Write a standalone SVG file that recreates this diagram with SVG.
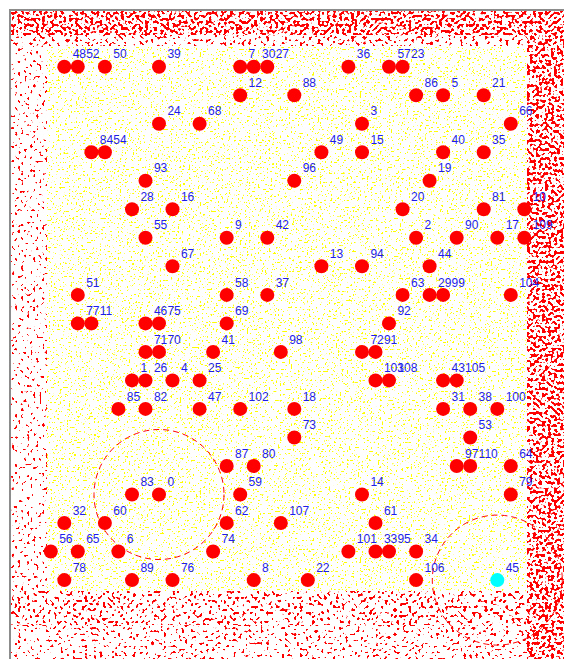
<svg xmlns="http://www.w3.org/2000/svg" width="564" height="659" viewBox="0 0 564 659">
<defs>
<style>
.n{fill:#ff0000}
.c{fill:#00ffff}
.l{font-family:"Liberation Sans",Arial,sans-serif;font-size:12px;fill:#1e1ee8}
.rng{fill:none;stroke:#ff0000;stroke-width:1;stroke-dasharray:6 4}
.frame{stroke:#8c8c8c;stroke-width:2;fill:none}
</style>
<filter id="fy" filterUnits="userSpaceOnUse" x="0" y="0" width="564" height="659" color-interpolation-filters="sRGB">
<feTurbulence type="fractalNoise" baseFrequency="0.55" numOctaves="1" seed="2"/>
<feColorMatrix type="matrix" values="0 0 0 0 1  0 0 0 0 1  0 0 0 0 0  30 0 0 0 -19.05"/>
<feComposite operator="in" in2="SourceAlpha"/>
</filter>
<filter id="frd" filterUnits="userSpaceOnUse" x="0" y="0" width="564" height="659" color-interpolation-filters="sRGB">
<feTurbulence type="fractalNoise" baseFrequency="0.33" numOctaves="1" seed="5"/>
<feColorMatrix type="matrix" values="0 0 0 0 1  0 0 0 0 0  0 0 0 0 0  30 0 0 0 -15.6"/>
<feComposite operator="in" in2="SourceAlpha"/>
</filter>
<filter id="frm" filterUnits="userSpaceOnUse" x="0" y="0" width="564" height="659" color-interpolation-filters="sRGB">
<feTurbulence type="fractalNoise" baseFrequency="0.33" numOctaves="1" seed="7"/>
<feColorMatrix type="matrix" values="0 0 0 0 1  0 0 0 0 0  0 0 0 0 0  30 0 0 0 -17.7"/>
<feComposite operator="in" in2="SourceAlpha"/>
</filter>
<filter id="frb" filterUnits="userSpaceOnUse" x="0" y="0" width="564" height="659" color-interpolation-filters="sRGB">
<feTurbulence type="fractalNoise" baseFrequency="0.33" numOctaves="1" seed="11"/>
<feColorMatrix type="matrix" values="0 0 0 0 1  0 0 0 0 0  0 0 0 0 0  30 0 0 0 -18.6"/>
<feComposite operator="in" in2="SourceAlpha"/>
</filter>
<filter id="frs" filterUnits="userSpaceOnUse" x="0" y="0" width="564" height="659" color-interpolation-filters="sRGB">
<feTurbulence type="fractalNoise" baseFrequency="0.33" numOctaves="1" seed="9"/>
<feColorMatrix type="matrix" values="0 0 0 0 1  0 0 0 0 0  0 0 0 0 0  30 0 0 0 -19.2"/>
<feComposite operator="in" in2="SourceAlpha"/>
</filter>
</defs>
<rect x="0" y="0" width="564" height="659" fill="#ffffff"/>
<g id="field">
<rect x="47" y="47" width="480" height="544" fill="#000" filter="url(#fy)"/>
<rect x="11" y="11" width="553" height="24" fill="#000" filter="url(#frd)"/>
<rect x="11" y="35" width="516" height="11" fill="#000" filter="url(#frm)"/>
<rect x="527" y="35" width="37" height="624" fill="#000" filter="url(#frd)"/>
<rect x="11" y="46" width="36" height="545" fill="#000" filter="url(#frs)"/>
<rect x="11" y="591" width="516" height="34" fill="#000" filter="url(#frm)"/>
<rect x="11" y="625" width="516" height="34" fill="#000" filter="url(#frb)"/>
</g>
<g id="border">
<line class="frame" x1="10" y1="10" x2="10" y2="659"/>
<line class="frame" x1="9" y1="10" x2="564" y2="10"/>
</g>
<g id="ranges">
<circle class="rng" cx="159" cy="494.5" r="65"/>
<circle class="rng" cx="497.3" cy="580.1" r="65"/>
</g>
<g id="connectors"></g>
<g id="nodes">
<g id="n48"><circle class="n" cx="64.3" cy="66.7" r="7"/><text class="l" x="72.7" y="58.3">48</text></g>
<g id="n52"><circle class="n" cx="77.8" cy="66.7" r="7"/><text class="l" x="86.2" y="58.3">52</text></g>
<g id="n50"><circle class="n" cx="104.9" cy="66.7" r="7"/><text class="l" x="113.3" y="58.3">50</text></g>
<g id="n39"><circle class="n" cx="159.0" cy="66.7" r="7"/><text class="l" x="167.4" y="58.3">39</text></g>
<g id="n7"><circle class="n" cx="240.2" cy="66.7" r="7"/><text class="l" x="248.6" y="58.3">7</text></g>
<g id="n30"><circle class="n" cx="253.7" cy="66.7" r="7"/><text class="l" x="262.1" y="58.3">30</text></g>
<g id="n27"><circle class="n" cx="267.3" cy="66.7" r="7"/><text class="l" x="275.7" y="58.3">27</text></g>
<g id="n36"><circle class="n" cx="348.4" cy="66.7" r="7"/><text class="l" x="356.8" y="58.3">36</text></g>
<g id="n57"><circle class="n" cx="389.0" cy="66.7" r="7"/><text class="l" x="397.4" y="58.3">57</text></g>
<g id="n23"><circle class="n" cx="402.6" cy="66.7" r="7"/><text class="l" x="411.0" y="58.3">23</text></g>
<g id="n12"><circle class="n" cx="240.2" cy="95.2" r="7"/><text class="l" x="248.6" y="86.8">12</text></g>
<g id="n88"><circle class="n" cx="294.3" cy="95.2" r="7"/><text class="l" x="302.7" y="86.8">88</text></g>
<g id="n86"><circle class="n" cx="416.1" cy="95.2" r="7"/><text class="l" x="424.5" y="86.8">86</text></g>
<g id="n5"><circle class="n" cx="443.1" cy="95.2" r="7"/><text class="l" x="451.5" y="86.8">5</text></g>
<g id="n21"><circle class="n" cx="483.7" cy="95.2" r="7"/><text class="l" x="492.1" y="86.8">21</text></g>
<g id="n24"><circle class="n" cx="159.0" cy="123.7" r="7"/><text class="l" x="167.4" y="115.3">24</text></g>
<g id="n68"><circle class="n" cx="199.6" cy="123.7" r="7"/><text class="l" x="208.0" y="115.3">68</text></g>
<g id="n3"><circle class="n" cx="362.0" cy="123.7" r="7"/><text class="l" x="370.4" y="115.3">3</text></g>
<g id="n66"><circle class="n" cx="510.8" cy="123.7" r="7"/><text class="l" x="519.2" y="115.3">66</text></g>
<g id="n84"><circle class="n" cx="91.4" cy="152.3" r="7"/><text class="l" x="99.8" y="143.9">84</text></g>
<g id="n54"><circle class="n" cx="104.9" cy="152.3" r="7"/><text class="l" x="113.3" y="143.9">54</text></g>
<g id="n49"><circle class="n" cx="321.4" cy="152.3" r="7"/><text class="l" x="329.8" y="143.9">49</text></g>
<g id="n15"><circle class="n" cx="362.0" cy="152.3" r="7"/><text class="l" x="370.4" y="143.9">15</text></g>
<g id="n40"><circle class="n" cx="443.1" cy="152.3" r="7"/><text class="l" x="451.5" y="143.9">40</text></g>
<g id="n35"><circle class="n" cx="483.7" cy="152.3" r="7"/><text class="l" x="492.1" y="143.9">35</text></g>
<g id="n93"><circle class="n" cx="145.5" cy="180.8" r="7"/><text class="l" x="153.9" y="172.4">93</text></g>
<g id="n96"><circle class="n" cx="294.3" cy="180.8" r="7"/><text class="l" x="302.7" y="172.4">96</text></g>
<g id="n19"><circle class="n" cx="429.6" cy="180.8" r="7"/><text class="l" x="438.0" y="172.4">19</text></g>
<g id="n28"><circle class="n" cx="132.0" cy="209.3" r="7"/><text class="l" x="140.4" y="200.9">28</text></g>
<g id="n16"><circle class="n" cx="172.5" cy="209.3" r="7"/><text class="l" x="180.9" y="200.9">16</text></g>
<g id="n20"><circle class="n" cx="402.6" cy="209.3" r="7"/><text class="l" x="411.0" y="200.9">20</text></g>
<g id="n81"><circle class="n" cx="483.7" cy="209.3" r="7"/><text class="l" x="492.1" y="200.9">81</text></g>
<g id="n10"><circle class="n" cx="524.3" cy="209.3" r="7"/><text class="l" x="532.7" y="200.9">10</text></g>
<g id="n55"><circle class="n" cx="145.5" cy="237.8" r="7"/><text class="l" x="153.9" y="229.4">55</text></g>
<g id="n9"><circle class="n" cx="226.7" cy="237.8" r="7"/><text class="l" x="235.1" y="229.4">9</text></g>
<g id="n42"><circle class="n" cx="267.3" cy="237.8" r="7"/><text class="l" x="275.7" y="229.4">42</text></g>
<g id="n2"><circle class="n" cx="416.1" cy="237.8" r="7"/><text class="l" x="424.5" y="229.4">2</text></g>
<g id="n90"><circle class="n" cx="456.7" cy="237.8" r="7"/><text class="l" x="465.1" y="229.4">90</text></g>
<g id="n17"><circle class="n" cx="497.3" cy="237.8" r="7"/><text class="l" x="505.7" y="229.4">17</text></g>
<g id="n109"><circle class="n" cx="524.3" cy="237.8" r="7"/><text class="l" x="532.7" y="229.4">109</text></g>
<g id="n67"><circle class="n" cx="172.5" cy="266.3" r="7"/><text class="l" x="180.9" y="257.9">67</text></g>
<g id="n13"><circle class="n" cx="321.4" cy="266.3" r="7"/><text class="l" x="329.8" y="257.9">13</text></g>
<g id="n94"><circle class="n" cx="362.0" cy="266.3" r="7"/><text class="l" x="370.4" y="257.9">94</text></g>
<g id="n44"><circle class="n" cx="429.6" cy="266.3" r="7"/><text class="l" x="438.0" y="257.9">44</text></g>
<g id="n51"><circle class="n" cx="77.8" cy="294.9" r="7"/><text class="l" x="86.2" y="286.5">51</text></g>
<g id="n58"><circle class="n" cx="226.7" cy="294.9" r="7"/><text class="l" x="235.1" y="286.5">58</text></g>
<g id="n37"><circle class="n" cx="267.3" cy="294.9" r="7"/><text class="l" x="275.7" y="286.5">37</text></g>
<g id="n63"><circle class="n" cx="402.6" cy="294.9" r="7"/><text class="l" x="411.0" y="286.5">63</text></g>
<g id="n29"><circle class="n" cx="429.6" cy="294.9" r="7"/><text class="l" x="438.0" y="286.5">29</text></g>
<g id="n99"><circle class="n" cx="443.1" cy="294.9" r="7"/><text class="l" x="451.5" y="286.5">99</text></g>
<g id="n104"><circle class="n" cx="510.8" cy="294.9" r="7"/><text class="l" x="519.2" y="286.5">104</text></g>
<g id="n77"><circle class="n" cx="77.8" cy="323.4" r="7"/><text class="l" x="86.2" y="315.0">77</text></g>
<g id="n11"><circle class="n" cx="91.4" cy="323.4" r="7"/><text class="l" x="99.8" y="315.0">11</text></g>
<g id="n46"><circle class="n" cx="145.5" cy="323.4" r="7"/><text class="l" x="153.9" y="315.0">46</text></g>
<g id="n75"><circle class="n" cx="159.0" cy="323.4" r="7"/><text class="l" x="167.4" y="315.0">75</text></g>
<g id="n69"><circle class="n" cx="226.7" cy="323.4" r="7"/><text class="l" x="235.1" y="315.0">69</text></g>
<g id="n92"><circle class="n" cx="389.0" cy="323.4" r="7"/><text class="l" x="397.4" y="315.0">92</text></g>
<g id="n71"><circle class="n" cx="145.5" cy="351.9" r="7"/><text class="l" x="153.9" y="343.5">71</text></g>
<g id="n70"><circle class="n" cx="159.0" cy="351.9" r="7"/><text class="l" x="167.4" y="343.5">70</text></g>
<g id="n41"><circle class="n" cx="213.1" cy="351.9" r="7"/><text class="l" x="221.5" y="343.5">41</text></g>
<g id="n98"><circle class="n" cx="280.8" cy="351.9" r="7"/><text class="l" x="289.2" y="343.5">98</text></g>
<g id="n72"><circle class="n" cx="362.0" cy="351.9" r="7"/><text class="l" x="370.4" y="343.5">72</text></g>
<g id="n91"><circle class="n" cx="375.5" cy="351.9" r="7"/><text class="l" x="383.9" y="343.5">91</text></g>
<g id="n1"><circle class="n" cx="132.0" cy="380.4" r="7"/><text class="l" x="140.4" y="372.0">1</text></g>
<g id="n26"><circle class="n" cx="145.5" cy="380.4" r="7"/><text class="l" x="153.9" y="372.0">26</text></g>
<g id="n4"><circle class="n" cx="172.5" cy="380.4" r="7"/><text class="l" x="180.9" y="372.0">4</text></g>
<g id="n25"><circle class="n" cx="199.6" cy="380.4" r="7"/><text class="l" x="208.0" y="372.0">25</text></g>
<g id="n103"><circle class="n" cx="375.5" cy="380.4" r="7"/><text class="l" x="383.9" y="372.0">103</text></g>
<g id="n108"><circle class="n" cx="389.0" cy="380.4" r="7"/><text class="l" x="397.4" y="372.0">108</text></g>
<g id="n43"><circle class="n" cx="443.1" cy="380.4" r="7"/><text class="l" x="451.5" y="372.0">43</text></g>
<g id="n105"><circle class="n" cx="456.7" cy="380.4" r="7"/><text class="l" x="465.1" y="372.0">105</text></g>
<g id="n85"><circle class="n" cx="118.4" cy="408.9" r="7"/><text class="l" x="126.8" y="400.5">85</text></g>
<g id="n82"><circle class="n" cx="145.5" cy="408.9" r="7"/><text class="l" x="153.9" y="400.5">82</text></g>
<g id="n47"><circle class="n" cx="199.6" cy="408.9" r="7"/><text class="l" x="208.0" y="400.5">47</text></g>
<g id="n102"><circle class="n" cx="240.2" cy="408.9" r="7"/><text class="l" x="248.6" y="400.5">102</text></g>
<g id="n18"><circle class="n" cx="294.3" cy="408.9" r="7"/><text class="l" x="302.7" y="400.5">18</text></g>
<g id="n31"><circle class="n" cx="443.1" cy="408.9" r="7"/><text class="l" x="451.5" y="400.5">31</text></g>
<g id="n38"><circle class="n" cx="470.2" cy="408.9" r="7"/><text class="l" x="478.6" y="400.5">38</text></g>
<g id="n100"><circle class="n" cx="497.3" cy="408.9" r="7"/><text class="l" x="505.7" y="400.5">100</text></g>
<g id="n73"><circle class="n" cx="294.3" cy="437.5" r="7"/><text class="l" x="302.7" y="429.1">73</text></g>
<g id="n53"><circle class="n" cx="470.2" cy="437.5" r="7"/><text class="l" x="478.6" y="429.1">53</text></g>
<g id="n87"><circle class="n" cx="226.7" cy="466.0" r="7"/><text class="l" x="235.1" y="457.6">87</text></g>
<g id="n80"><circle class="n" cx="253.7" cy="466.0" r="7"/><text class="l" x="262.1" y="457.6">80</text></g>
<g id="n97"><circle class="n" cx="456.7" cy="466.0" r="7"/><text class="l" x="465.1" y="457.6">97</text></g>
<g id="n110"><circle class="n" cx="470.2" cy="466.0" r="7"/><text class="l" x="478.6" y="457.6">110</text></g>
<g id="n64"><circle class="n" cx="510.8" cy="466.0" r="7"/><text class="l" x="519.2" y="457.6">64</text></g>
<g id="n83"><circle class="n" cx="132.0" cy="494.5" r="7"/><text class="l" x="140.4" y="486.1">83</text></g>
<g id="n0"><circle class="n" cx="159.0" cy="494.5" r="7"/><text class="l" x="167.4" y="486.1">0</text></g>
<g id="n59"><circle class="n" cx="240.2" cy="494.5" r="7"/><text class="l" x="248.6" y="486.1">59</text></g>
<g id="n14"><circle class="n" cx="362.0" cy="494.5" r="7"/><text class="l" x="370.4" y="486.1">14</text></g>
<g id="n79"><circle class="n" cx="510.8" cy="494.5" r="7"/><text class="l" x="519.2" y="486.1">79</text></g>
<g id="n32"><circle class="n" cx="64.3" cy="523.0" r="7"/><text class="l" x="72.7" y="514.6">32</text></g>
<g id="n60"><circle class="n" cx="104.9" cy="523.0" r="7"/><text class="l" x="113.3" y="514.6">60</text></g>
<g id="n62"><circle class="n" cx="226.7" cy="523.0" r="7"/><text class="l" x="235.1" y="514.6">62</text></g>
<g id="n107"><circle class="n" cx="280.8" cy="523.0" r="7"/><text class="l" x="289.2" y="514.6">107</text></g>
<g id="n61"><circle class="n" cx="375.5" cy="523.0" r="7"/><text class="l" x="383.9" y="514.6">61</text></g>
<g id="n56"><circle class="n" cx="50.8" cy="551.5" r="7"/><text class="l" x="59.2" y="543.1">56</text></g>
<g id="n65"><circle class="n" cx="77.8" cy="551.5" r="7"/><text class="l" x="86.2" y="543.1">65</text></g>
<g id="n6"><circle class="n" cx="118.4" cy="551.5" r="7"/><text class="l" x="126.8" y="543.1">6</text></g>
<g id="n74"><circle class="n" cx="213.1" cy="551.5" r="7"/><text class="l" x="221.5" y="543.1">74</text></g>
<g id="n101"><circle class="n" cx="348.4" cy="551.5" r="7"/><text class="l" x="356.8" y="543.1">101</text></g>
<g id="n33"><circle class="n" cx="375.5" cy="551.5" r="7"/><text class="l" x="383.9" y="543.1">33</text></g>
<g id="n95"><circle class="n" cx="389.0" cy="551.5" r="7"/><text class="l" x="397.4" y="543.1">95</text></g>
<g id="n34"><circle class="n" cx="416.1" cy="551.5" r="7"/><text class="l" x="424.5" y="543.1">34</text></g>
<g id="n78"><circle class="n" cx="64.3" cy="580.1" r="7"/><text class="l" x="72.7" y="571.7">78</text></g>
<g id="n89"><circle class="n" cx="132.0" cy="580.1" r="7"/><text class="l" x="140.4" y="571.7">89</text></g>
<g id="n76"><circle class="n" cx="172.5" cy="580.1" r="7"/><text class="l" x="180.9" y="571.7">76</text></g>
<g id="n8"><circle class="n" cx="253.7" cy="580.1" r="7"/><text class="l" x="262.1" y="571.7">8</text></g>
<g id="n22"><circle class="n" cx="307.8" cy="580.1" r="7"/><text class="l" x="316.2" y="571.7">22</text></g>
<g id="n106"><circle class="n" cx="416.1" cy="580.1" r="7"/><text class="l" x="424.5" y="571.7">106</text></g>
<g id="n45"><circle class="c" cx="497.3" cy="580.1" r="7"/><text class="l" x="505.7" y="571.7">45</text></g>
</g>
</svg>
